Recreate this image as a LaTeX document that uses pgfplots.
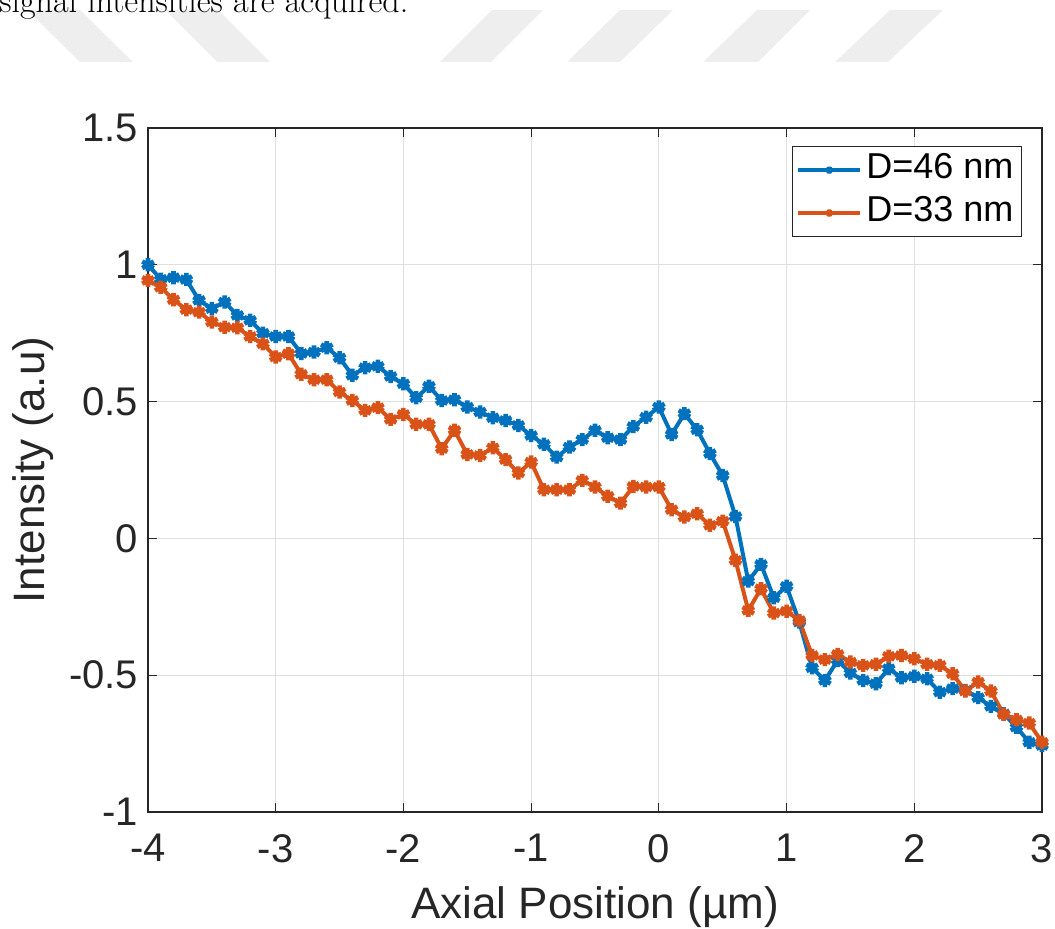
\documentclass[border=0pt]{standalone}
\usepackage{fontspec}
\usepackage{pgfplots}
\pgfplotsset{compat=1.18}
\newfontfamily\arial{Liberation Sans}
\definecolor{mblue}{RGB}{0,114,189}
\definecolor{morange}{RGB}{217,83,25}
\definecolor{mgrid}{RGB}{223,223,223}
\definecolor{maxis}{RGB}{38,38,38}
\definecolor{wm}{RGB}{238,238,238}
\pgfplotstableread{
x y
-4.0 1.00
-3.9 0.947
-3.8 0.953
-3.7 0.946
-3.6 0.87
-3.5 0.84
-3.4 0.864
-3.3 0.815
-3.2 0.797
-3.1 0.75
-3.0 0.738
-2.9 0.738
-2.8 0.676
-2.7 0.681
-2.6 0.697
-2.5 0.66
-2.4 0.596
-2.3 0.624
-2.2 0.629
-2.1 0.592
-2.0 0.565
-1.9 0.514
-1.8 0.556
-1.7 0.504
-1.6 0.507
-1.5 0.48
-1.4 0.462
-1.3 0.441
-1.2 0.431
-1.1 0.413
-1.0 0.376
-0.9 0.344
-0.8 0.297
-0.7 0.334
-0.6 0.361
-0.5 0.395
-0.4 0.368
-0.3 0.361
-0.2 0.409
-0.1 0.443
0.0 0.48
0.1 0.38
0.2 0.456
0.3 0.397
0.4 0.31
0.5 0.23
0.6 0.08
0.7 -0.156
0.8 -0.095
0.9 -0.217
1.0 -0.175
1.1 -0.306
1.2 -0.473
1.3 -0.519
1.4 -0.446
1.5 -0.492
1.6 -0.519
1.7 -0.531
1.8 -0.476
1.9 -0.509
2.0 -0.504
2.1 -0.513
2.2 -0.562
2.3 -0.549
2.4 -0.556
2.5 -0.582
2.6 -0.614
2.7 -0.641
2.8 -0.69
2.9 -0.745
3.0 -0.757
}\blue
\pgfplotstableread{
x y
-4.0 0.943
-3.9 0.918
-3.8 0.872
-3.7 0.836
-3.6 0.827
-3.5 0.791
-3.4 0.772
-3.3 0.77
-3.2 0.738
-3.1 0.711
-3.0 0.663
-2.9 0.675
-2.8 0.60
-2.7 0.58
-2.6 0.58
-2.5 0.535
-2.4 0.504
-2.3 0.468
-2.2 0.478
-2.1 0.435
-2.0 0.453
-1.9 0.417
-1.8 0.417
-1.7 0.328
-1.6 0.395
-1.5 0.307
-1.4 0.303
-1.3 0.331
-1.2 0.288
-1.1 0.239
-1.0 0.279
-0.9 0.178
-0.8 0.178
-0.7 0.178
-0.6 0.212
-0.5 0.188
-0.4 0.154
-0.3 0.129
-0.2 0.19
-0.1 0.188
0.0 0.188
0.1 0.105
0.2 0.078
0.3 0.09
0.4 0.048
0.5 0.063
0.6 -0.08
0.7 -0.263
0.8 -0.184
0.9 -0.273
1.0 -0.266
1.1 -0.30
1.2 -0.428
1.3 -0.443
1.4 -0.424
1.5 -0.452
1.6 -0.464
1.7 -0.46
1.8 -0.431
1.9 -0.428
2.0 -0.44
2.1 -0.46
2.2 -0.464
2.3 -0.495
2.4 -0.558
2.5 -0.525
2.6 -0.558
2.7 -0.643
2.8 -0.663
2.9 -0.675
3.0 -0.745
}\orange
\begin{document}
\begin{tikzpicture}
\begin{axis}[
  scale only axis, width=447pt, height=342pt,
  xmin=-4, xmax=3, ymin=-1, ymax=1.5,
  clip=false,
  axis line style={draw=maxis, line width=0.6pt},
  xtick={-4,-3,-2,-1,0,1,2,3},
  xticklabels={-4,-3,-2,-1,0,1,2,3},
  ytick={-1,-0.5,0,0.5,1,1.5},
  yticklabels={-1,-0.5,0,0.5,1,1.5},
  tick label style={font=\arial\fontsize{20}{24}\selectfont, text=maxis},
  xticklabel style={yshift=-7.5pt},
  yticklabel style={xshift=-1.5pt},
  tick pos=both, tick align=inside, major tick length=4.5pt,
  tick style={draw=maxis, line width=0.6pt},
  grid=major, major grid style={draw=mgrid, line width=0.6pt},
  xlabel={Axial Position (µm)},
  ylabel={Intensity (a.u)},
  label style={font=\arial\fontsize{22}{26}\selectfont, text=maxis},
  xlabel style={at={([yshift=-53pt]axis description cs:0.5,0)}, anchor=base},
  ylabel style={at={([xshift=-51.5pt]axis description cs:0,0.5)}, anchor=base, rotate=0},
  legend cell align=left,
  legend style={at={([xshift=-10pt,yshift=-9pt]rel axis cs:1,1)}, anchor=north east,
    draw=maxis, line width=0.6pt, fill=white,
    font=\arial\fontsize{18}{22}\selectfont,
    inner xsep=2pt, inner ysep=1pt, row sep=0pt,
    nodes={inner sep=2pt, text height=13pt, text depth=4.5pt}},
  legend image code/.code={\draw[mark repeat=2,mark phase=2, mark size=1.8pt, mark options={line width=1.6pt}] plot coordinates {(0pt,0pt) (15.5pt,0pt) (31pt,0pt)};},
]
\addplot[color=mblue, line width=2pt, mark=asterisk, mark size=3.3pt, mark options={line width=2.3pt}] table[x=x,y=y] {\blue};
\addlegendentry{D=46 nm}
\addplot[color=morange, line width=2pt, mark=asterisk, mark size=3.3pt, mark options={line width=2.3pt}] table[x=x,y=y] {\orange};
\addlegendentry{D=33 nm}
\coordinate (O) at (rel axis cs:0,1);
\end{axis}
\coordinate (P) at ([shift={(-74pt,64pt)}]O);
\begin{scope}[shift={(P)}, x=0.5pt, y=-0.5pt]
  \fill[wm] (27,10) -- (80,10) -- (133,62) -- (80,62) -- cycle;
  \fill[wm] (165,10) -- (218,10) -- (270,62) -- (217,62) -- cycle;
  \fill[wm] (492,10) -- (543,10) -- (491,62) -- (440,62) -- cycle;
  \fill[wm] (620,10) -- (673,10) -- (620,62) -- (567,62) -- cycle;
  \fill[wm] (757,10) -- (810,10) -- (758,62) -- (703,62) -- cycle;
  \fill[wm] (890,10) -- (943,10) -- (888,62) -- (835,62) -- cycle;
  \node[anchor=base west, inner sep=0pt, font=\fontsize{17}{20}\selectfont] at (-1,13) {signal intensities are acquired.};
\end{scope}
\pgfresetboundingbox
\path[use as bounding box] (P) rectangle ([shift={(527.5pt,-464pt)}]P);
\end{tikzpicture}
\end{document}
